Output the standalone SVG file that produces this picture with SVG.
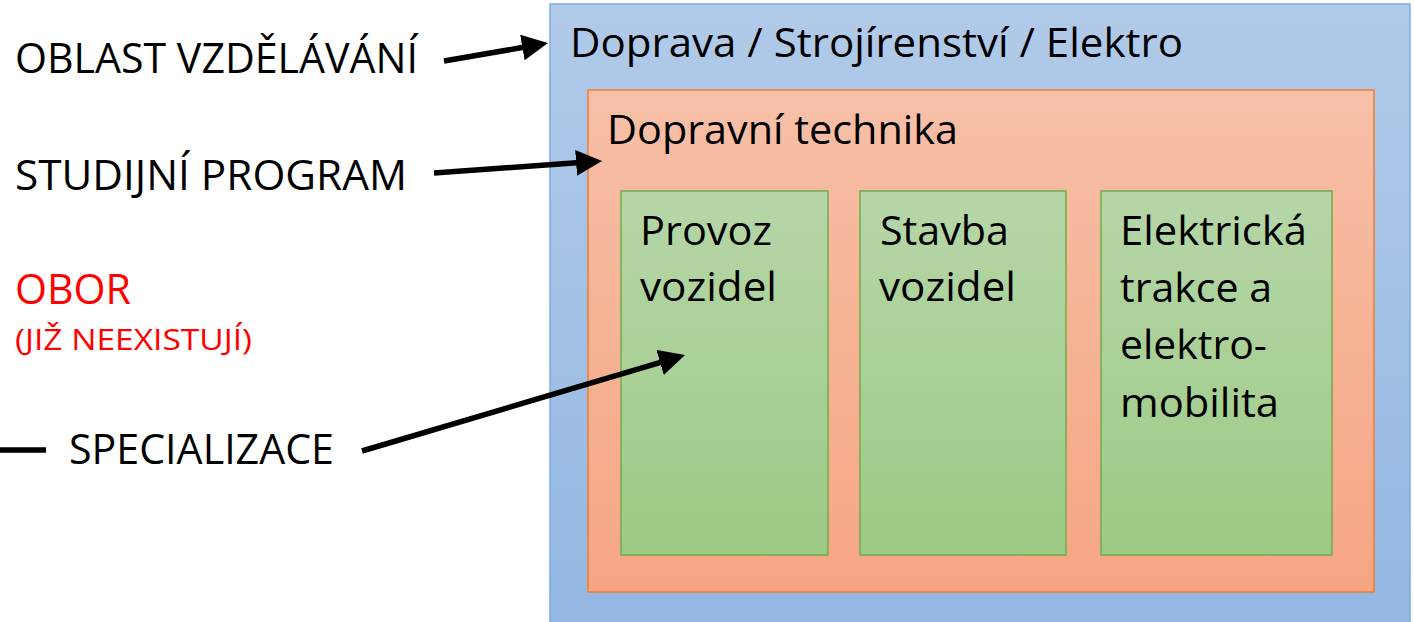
<svg xmlns="http://www.w3.org/2000/svg" width="1414" height="622" viewBox="0 0 1414 622">
<style>
.t{font-family:'Open Sans','Liberation Sans',sans-serif;fill:#000}
.big{font-size:42px}
.box{font-size:40px}
.red{fill:#ff0000}
.small{font-size:30px}
.conn{stroke:#000;stroke-width:5.5;fill:none;stroke-linecap:butt}
</style>
<defs>
<linearGradient id="gBlue" x1="0" y1="0" x2="0" y2="1"><stop offset="0" stop-color="#b1cae9"/><stop offset="1" stop-color="#93b7e2"/></linearGradient>
<linearGradient id="gOrange" x1="0" y1="0" x2="0" y2="1"><stop offset="0" stop-color="#f7c0a8"/><stop offset="1" stop-color="#f6a582"/></linearGradient>
<linearGradient id="gGreen" x1="0" y1="0" x2="0" y2="1"><stop offset="0" stop-color="#b6d6a8"/><stop offset="1" stop-color="#9cca85"/></linearGradient>
<marker id="arrow" markerUnits="userSpaceOnUse" markerWidth="26" markerHeight="26" viewBox="0 0 26 26" refX="4" refY="13" orient="auto"><path d="M0,0 L26,13 L0,26 z" fill="#000"/></marker>
</defs>
<rect width="1414" height="622" fill="#fff"/>
<g id="oblast">
<rect x="550" y="4" width="860" height="640" fill="url(#gBlue)" stroke="#7aade0" stroke-width="1.5"/>
<text class="t box" x="570" y="57" textLength="613" lengthAdjust="spacingAndGlyphs">Doprava / Strojírenství / Elektro</text>
</g>
<g id="program">
<rect x="588" y="90" width="786" height="502" fill="url(#gOrange)" stroke="#ed7d31" stroke-width="1.5"/>
<text class="t box" x="607" y="144" textLength="351" lengthAdjust="spacingAndGlyphs">Dopravní technika</text>
</g>
<g id="spec1">
<rect x="621" y="191" width="207" height="364" fill="url(#gGreen)" stroke="#70ad47" stroke-width="1.5"/>
<text class="t box" x="640" y="245" textLength="132" lengthAdjust="spacingAndGlyphs">Provoz</text>
<text class="t box" x="640" y="301" textLength="137" lengthAdjust="spacingAndGlyphs">vozidel</text>
</g>
<g id="spec2">
<rect x="860" y="191" width="206" height="364" fill="url(#gGreen)" stroke="#70ad47" stroke-width="1.5"/>
<text class="t box" x="880" y="245" textLength="129" lengthAdjust="spacingAndGlyphs">Stavba</text>
<text class="t box" x="879" y="301" textLength="137" lengthAdjust="spacingAndGlyphs">vozidel</text>
</g>
<g id="spec3">
<rect x="1101" y="191" width="231" height="364" fill="url(#gGreen)" stroke="#70ad47" stroke-width="1.5"/>
<text class="t box" x="1120" y="245" textLength="187" lengthAdjust="spacingAndGlyphs">Elektrická</text>
<text class="t box" x="1120" y="302" textLength="152" lengthAdjust="spacingAndGlyphs">trakce a</text>
<text class="t box" x="1120" y="359" textLength="147" lengthAdjust="spacingAndGlyphs">elektro-</text>
<text class="t box" x="1120" y="417" textLength="159" lengthAdjust="spacingAndGlyphs">mobilita</text>
</g>
<g id="labels">
<text class="t big" x="15" y="73" textLength="403" lengthAdjust="spacingAndGlyphs">OBLAST VZDĚLÁVÁNÍ</text>
<text class="t big" x="15" y="190" textLength="392" lengthAdjust="spacingAndGlyphs">STUDIJNÍ PROGRAM</text>
<text class="t big red" x="15" y="304" textLength="116" lengthAdjust="spacingAndGlyphs">OBOR</text>
<text class="t small red" x="15" y="350" textLength="237" lengthAdjust="spacingAndGlyphs">(JIŽ NEEXISTUJÍ)</text>
<text class="t big" x="69" y="464" textLength="265" lengthAdjust="spacingAndGlyphs">SPECIALIZACE</text>
</g>
<g id="connectors">
<line class="conn" x1="444" y1="61" x2="526.3" y2="46.8" marker-end="url(#arrow)"/>
<line class="conn" x1="434" y1="173" x2="580.1" y2="162.6" marker-end="url(#arrow)"/>
<line class="conn" x1="362" y1="451" x2="663.9" y2="361.3" marker-end="url(#arrow)"/>
<line class="conn" x1="0" y1="450" x2="46" y2="450"/>
</g>
</svg>
